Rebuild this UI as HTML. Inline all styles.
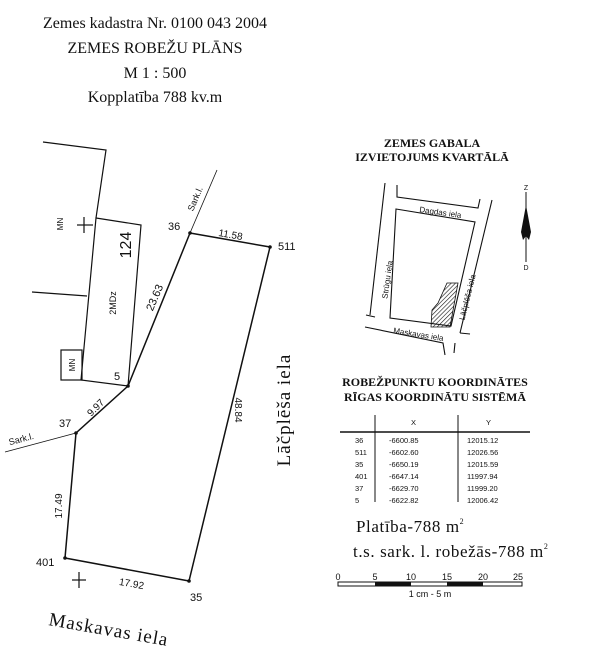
<!DOCTYPE html>
<html><head><meta charset="utf-8"><style>
html,body{margin:0;padding:0;background:#fff;}
svg{display:block}
</style></head><body>
<svg width="600" height="659" viewBox="0 0 600 659" xmlns="http://www.w3.org/2000/svg">
<g font-family="Liberation Serif, serif" font-size="16" text-anchor="middle" fill="#111">
<text x="155" y="28">Zemes kadastra Nr. 0100 043 2004</text>
<text x="155" y="53">ZEMES ROBEŽU PLĀNS</text>
<text x="155" y="78">M 1 : 500</text>
<text x="155" y="102">Kopplatība 788 kv.m</text>
</g>
<g stroke="#111" stroke-width="1.2" fill="none">
<polyline points="43,142 106,150 96,218"/>
<polygon points="96,218 141,225 128,386 81,380"/>
<line x1="32" y1="292" x2="87" y2="296"/>
<rect x="61" y="350" width="21" height="30"/>
<line x1="77" y1="225" x2="93" y2="225"/><line x1="84" y1="217" x2="84" y2="233"/>
<line x1="72" y1="580" x2="86" y2="580"/><line x1="79" y1="572" x2="79" y2="588"/>
<polyline points="190,233 270,247 189,581 65,558 76,433 128,386 190,233" stroke-width="1.5"/>
<line x1="190" y1="233" x2="217" y2="170" stroke-width="0.8"/>
<line x1="76" y1="433" x2="5" y2="452" stroke-width="0.8"/>
</g>
<g fill="#111"><circle cx="190" cy="233" r="1.8"/><circle cx="270" cy="247" r="1.8"/><circle cx="128" cy="386" r="1.8"/><circle cx="76" cy="433" r="1.8"/><circle cx="65" cy="558" r="1.8"/><circle cx="189" cy="581" r="1.8"/></g>
<g font-family="Liberation Sans, sans-serif" fill="#111" font-size="11">
<text x="168" y="230">36</text><text x="278" y="250">511</text><text x="114" y="380">5</text>
<text x="59" y="427">37</text><text x="36" y="566">401</text><text x="190" y="601">35</text>
<text transform="translate(230,238) rotate(10)" text-anchor="middle" font-size="10">11.58</text>
<text transform="translate(158,299) rotate(-67)" text-anchor="middle" font-size="11">23.63</text>
<text transform="translate(131,245) rotate(-90)" text-anchor="middle" font-size="16">124</text>
<text transform="translate(116,303) rotate(-90)" text-anchor="middle" font-size="9">2MDz</text>
<text transform="translate(63,224) rotate(-90)" text-anchor="middle" font-size="8">MN</text>
<text transform="translate(75,365) rotate(-90)" text-anchor="middle" font-size="8">MN</text>
<text transform="translate(98,410) rotate(-45)" text-anchor="middle" font-size="10">9.97</text>
<text transform="translate(62,506) rotate(-90)" text-anchor="middle" font-size="10">17.49</text>
<text transform="translate(235,410) rotate(90)" text-anchor="middle" font-size="10">48.84</text>
<text transform="translate(131,587) rotate(10)" text-anchor="middle" font-size="10">17.92</text>
<text transform="translate(198,200) rotate(-67)" text-anchor="middle" font-size="9">Sark.l.</text>
<text transform="translate(22,442) rotate(-15)" text-anchor="middle" font-size="9">Sark.l.</text>
</g>
<g font-family="Liberation Serif, serif" fill="#111" font-size="19" letter-spacing="1">
<text transform="translate(290,410) rotate(-90)" text-anchor="middle">Lāčplēša iela</text>
<text transform="translate(48,625) rotate(10)">Maskavas iela</text>
</g>
<g font-family="Liberation Serif, serif" font-weight="bold" font-size="12" text-anchor="middle" fill="#111">
<text x="432" y="147">ZEMES GABALA</text><text x="432" y="161">IZVIETOJUMS KVARTĀLĀ</text>
<text x="435" y="386">ROBEŽPUNKTU KOORDINĀTES</text><text x="435" y="401">RĪGAS KOORDINĀTU SISTĒMĀ</text>
</g>
<g stroke="#111" stroke-width="1.1" fill="none">
<line x1="385" y1="183" x2="370" y2="315"/>
<line x1="366" y1="315" x2="375" y2="317"/>
<polyline points="397,185 397,197 478,208 480,199"/>
<polygon points="396,209 475,222 451,326 390,318"/>
<line x1="492" y1="200" x2="460" y2="333"/>
<line x1="460" y1="333" x2="470" y2="334"/>
<polyline points="365,327 443,343 445,355"/>
<line x1="455" y1="343" x2="454" y2="353"/>
</g>
<defs><pattern id="h" width="3" height="3" patternUnits="userSpaceOnUse" patternTransform="rotate(45)"><line x1="0" y1="0" x2="0" y2="3" stroke="#111" stroke-width="1.2"/></pattern></defs>
<polygon points="447,283 458,283 450,327 431,327 432,310 438,303" fill="url(#h)" stroke="#111" stroke-width="0.8"/>
<g font-family="Liberation Sans, sans-serif" font-size="8" fill="#111" text-anchor="middle">
<text transform="translate(440,215) rotate(8)">Dagdas iela</text>
<text transform="translate(390,280) rotate(-82)">Strūgu iela</text>
<text transform="translate(470,298) rotate(-76)">Lāčplēša iela</text>
<text transform="translate(418,337) rotate(9)">Maskavas iela</text>
<text x="526" y="190" font-size="7">Z</text><text x="526" y="270" font-size="7">D</text>
</g>
<line x1="526" y1="192" x2="526" y2="262" stroke="#111"/>
<polygon points="526,205 531,232 529,240 526,236 523,240 521,232" fill="#111"/>
<g stroke="#111" fill="none">
<line x1="375" y1="415" x2="375" y2="502"/><line x1="458" y1="415" x2="458" y2="502"/>
<line x1="340" y1="432" x2="530" y2="432" stroke-width="1.4"/>
</g>
<g font-family="Liberation Sans, sans-serif" font-size="7.5" fill="#111">
<text x="411" y="425">X</text><text x="486" y="425">Y</text>
<text x="355" y="443">36</text><text x="389" y="443">-6600.85</text><text x="467" y="443">12015.12</text>
<text x="355" y="455">511</text><text x="389" y="455">-6602.60</text><text x="467" y="455">12026.56</text>
<text x="355" y="467">35</text><text x="389" y="467">-6650.19</text><text x="467" y="467">12015.59</text>
<text x="355" y="479">401</text><text x="389" y="479">-6647.14</text><text x="467" y="479">11997.94</text>
<text x="355" y="491">37</text><text x="389" y="491">-6629.70</text><text x="467" y="491">11999.20</text>
<text x="355" y="503">5</text><text x="389" y="503">-6622.82</text><text x="467" y="503">12006.42</text>
</g>
<g font-family="Liberation Serif, serif" font-size="17" fill="#111" letter-spacing="0.6">
<text x="356" y="532">Platība-788  m<tspan font-size="8" dy="-8">2</tspan></text>
<text x="353" y="557">t.s. sark. l. robežās-788  m<tspan font-size="8" dy="-8">2</tspan></text>
</g>
<rect x="338" y="582" width="184" height="4" fill="none" stroke="#111"/>
<rect x="375" y="582" width="36" height="4" fill="#111"/><rect x="447" y="582" width="36" height="4" fill="#111"/>
<g font-family="Liberation Sans, sans-serif" font-size="9" fill="#111" text-anchor="middle">
<text x="338" y="580">0</text><text x="375" y="580">5</text><text x="411" y="580">10</text><text x="447" y="580">15</text><text x="483" y="580">20</text><text x="518" y="580">25</text>
<text x="430" y="597">1 cm - 5 m</text>
</g>
</svg>
</body></html>
